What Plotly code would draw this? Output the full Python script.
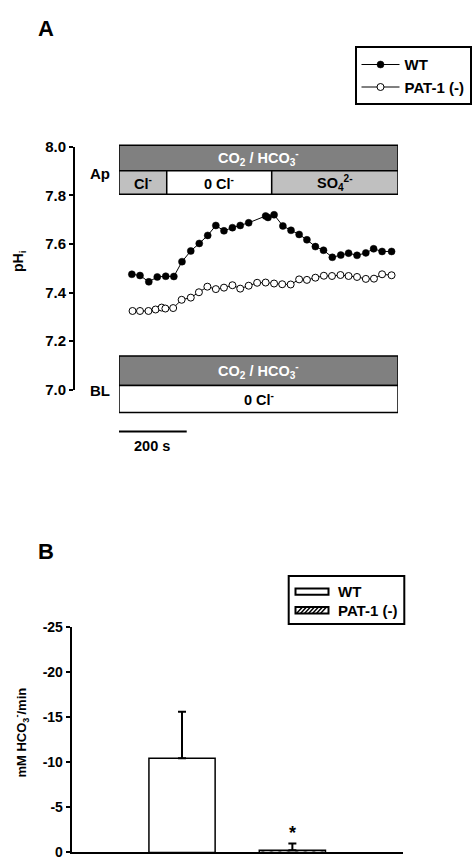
import plotly.graph_objects as go

W, H = 473, 867


def px(x):
    return x / W


def py(y):
    return 1 - y / H


# ---------------- Panel A data ----------------
wt_time = [38, 62, 88, 113, 138, 162, 186, 212, 237, 262, 286, 310, 335, 358, 383,
           433, 440, 458, 484, 508, 532, 555, 580, 604, 630, 655, 678, 703, 729, 752, 777, 805]
wt_ph = [7.475, 7.470, 7.444, 7.464, 7.467, 7.466, 7.527, 7.571, 7.602, 7.635, 7.676,
         7.654, 7.667, 7.676, 7.687, 7.715, 7.709, 7.720, 7.674, 7.656, 7.639, 7.617,
         7.589, 7.574, 7.545, 7.554, 7.562, 7.553, 7.563, 7.580, 7.569, 7.569]

pat_time = [40, 62, 87, 108, 126, 137, 160, 185, 212, 236, 261, 286, 310, 335, 358, 383,
            408, 433, 458, 482, 507, 532, 555, 580, 605, 629, 654, 678, 703, 729, 753, 777, 805]
pat_ph = [7.324, 7.324, 7.324, 7.330, 7.338, 7.334, 7.336, 7.370, 7.379, 7.401, 7.424,
          7.414, 7.420, 7.430, 7.416, 7.428, 7.440, 7.441, 7.437, 7.434, 7.433, 7.454,
          7.452, 7.461, 7.469, 7.468, 7.472, 7.468, 7.464, 7.456, 7.457, 7.475, 7.471]

series_names = ["WT", "PAT-1 (-)"]

# Solution segments (seconds)
ap_labels = ["Cl<sup>-</sup>", "0 Cl<sup>-</sup>", "SO<sub>4</sub><sup>2-</sup>"]
ap_bounds = [0, 141, 451, 824]
ap_colors = ["#c0c0c0", "#ffffff", "#c0c0c0"]
time_range = [0, 824]
scale_bar_s = 200

ph_ticks = [7.0, 7.2, 7.4, 7.6, 7.8, 8.0]

# ---------------- Panel B data ----------------
bar_categories = ["WT", "PAT-1 (-)"]
bar_values = [-10.45, -0.25]
bar_err = [5.15, 0.75]
b_ticks = [0, -5, -10, -15, -20, -25]
b_ticktext = ["0", "-5", "-10", "-15", "-20", "-25"]

FONT = "Liberation Sans, Arial, sans-serif"

fig = go.Figure()

fig.add_trace(go.Scatter(
    x=wt_time, y=wt_ph, name=series_names[0], mode="lines+markers",
    line=dict(color="black", width=1),
    marker=dict(symbol="circle", size=7, color="black", line=dict(color="black", width=0.5)),
    xaxis="x", yaxis="y", legend="legend", cliponaxis=False,
))
fig.add_trace(go.Scatter(
    x=pat_time, y=pat_ph, name=series_names[1], mode="lines+markers",
    line=dict(color="black", width=1),
    marker=dict(symbol="circle", size=7, color="white", line=dict(color="black", width=1)),
    xaxis="x", yaxis="y", legend="legend", cliponaxis=False,
))

fig.add_trace(go.Bar(
    x=[bar_categories[0]], y=[bar_values[0]], name=bar_categories[0], width=0.6,
    marker=dict(color="white", line=dict(color="black", width=1.5)),
    error_y=dict(type="data", symmetric=False, array=[0], arrayminus=[bar_err[0]],
                 color="black", thickness=2, width=4),
    xaxis="x2", yaxis="y2", showlegend=False,
))
fig.add_trace(go.Bar(
    x=[bar_categories[1]], y=[bar_values[1]], name=bar_categories[1], width=0.6,
    marker=dict(color="white", line=dict(color="black", width=1.5),
                pattern=dict(shape="/", fgcolor="black", bgcolor="white", size=6, solidity=0.35)),
    error_y=dict(type="data", symmetric=False, array=[0], arrayminus=[bar_err[1]],
                 color="black", thickness=2, width=4),
    xaxis="x2", yaxis="y2", showlegend=False,
))

shapes = []
BORDER = dict(color="black", width=1.5)
# Ap box top band
shapes.append(dict(type="rect", xref="x", yref="paper", x0=ap_bounds[0], x1=ap_bounds[-1],
                   y0=py(165), y1=py(139), fillcolor="#808080", line=BORDER))
for i in range(3):
    shapes.append(dict(type="rect", xref="x", yref="paper", x0=ap_bounds[i], x1=ap_bounds[i + 1],
                       y0=py(189), y1=py(165), fillcolor=ap_colors[i], line=BORDER))
# BL box
shapes.append(dict(type="rect", xref="x", yref="paper", x0=ap_bounds[0], x1=ap_bounds[-1],
                   y0=py(384), y1=py(354), fillcolor="#808080", line=BORDER))
shapes.append(dict(type="rect", xref="x", yref="paper", x0=ap_bounds[0], x1=ap_bounds[-1],
                   y0=py(411.5), y1=py(384), fillcolor="white", line=BORDER))
# scale bar
shapes.append(dict(type="line", xref="x", yref="paper", x0=0, x1=scale_bar_s,
                   y0=py(431), y1=py(431), line=dict(color="black", width=2)))

# Panel B legend (drawn as a key box)
shapes.append(dict(type="rect", xref="paper", yref="paper", x0=px(288.7), x1=px(404.3),
                   y0=py(627.3), y1=py(578.3), fillcolor="white", line=dict(color="black", width=2)))
shapes.append(dict(type="rect", xref="paper", yref="paper", x0=px(295.5), x1=px(328.5),
                   y0=py(597.5), y1=py(591), fillcolor="white", line=dict(color="black", width=2)))
shapes.append(dict(type="rect", xref="paper", yref="paper", x0=px(295.5), x1=px(328.5),
                   y0=py(616.5), y1=py(610), fillcolor="white", line=dict(color="black", width=2)))
hx0, hx1, hy0, hy1 = 295.5, 328.5, 616.5, 610
path = ""
u = hx0 + 1
while u + 6 <= hx1:
    path += f"M{px(u)},{py(hy0)} L{px(u + 6)},{py(hy1)} "
    u += 4
shapes.append(dict(type="path", xref="paper", yref="paper", path=path,
                   line=dict(color="black", width=1.5)))

annotations = []


def ann(text, x, y, size=14, color="black", angle=0, xref="paper", yref="paper", **kw):
    d = dict(text=text, x=x, y=y, xref=xref, yref=yref, showarrow=False,
             font=dict(family=FONT, weight="bold", size=size, color=color),
             textangle=angle, xanchor="center", yanchor="middle")
    d.update(kw)
    annotations.append(d)


co2 = "CO<sub>2</sub> / HCO<sub>3</sub><sup>-</sup>"
mid_t = (ap_bounds[0] + ap_bounds[-1]) / 2
ann(co2, mid_t, py(152), color="white", xref="x", size=14.5)
for i in range(3):
    ann(ap_labels[i], (ap_bounds[i] + ap_bounds[i + 1]) / 2, py(177.5), xref="x", size=14.5)
ann(co2, mid_t, py(369), color="white", xref="x", size=14.5)
ann(ap_labels[1], mid_t, py(398), xref="x", size=14.5)
ann("Ap", px(100), py(168), size=15)
ann("BL", px(100), py(389), size=15)
ann(f"{scale_bar_s} s", scale_bar_s / 2 - 2, py(446), xref="x", size=14.5)
ann("A", px(46), py(20), size=22)
ann("B", px(46), py(553), size=22)
ann("pH<sub>i</sub>", px(19), py(257), size=14, angle=-90)
ann("mM HCO<sub>3</sub><sup>-</sup>/min", px(21), py(738), size=13, angle=-90)
ann("*", bar_categories[1], bar_values[1] - bar_err[1], size=18, xref="x2", yref="y2",
    yanchor="bottom", yshift=-2)
ann(bar_categories[0], px(336), py(594.5), size=15, xanchor="left")
ann(bar_categories[1], px(336), py(613.5), size=15, xanchor="left")

fig.update_layout(
    width=W, height=H, margin=dict(l=0, r=0, t=0, b=0),
    paper_bgcolor="white", plot_bgcolor="white",
    font=dict(family=FONT, size=12, color="black"),
    barmode="overlay",
    xaxis=dict(domain=[px(119), px(398)], range=time_range, visible=False, anchor="y"),
    yaxis=dict(domain=[py(388.3), py(140.5)], range=[7.0, 8.0], anchor="free", position=px(74),
               tickvals=ph_ticks, tickformat=".1f", ticks="outside", ticklen=4, tickwidth=2,
               tickcolor="black", showline=True, linewidth=2, linecolor="black",
               showgrid=False, zeroline=False, tickfont=dict(family=FONT, weight="bold", size=15)),
    xaxis2=dict(domain=[px(71.7), px(402.7)], type="category", categoryarray=bar_categories,
                range=[-1, 2], showticklabels=False, ticks="", showline=True, linewidth=2,
                linecolor="black", showgrid=False, zeroline=False, anchor="y2"),
    yaxis2=dict(domain=[py(860.3), py(630.3)], range=[0, -25], anchor="x2",
                tickvals=b_ticks, ticktext=b_ticktext, ticks="outside", ticklen=4, tickwidth=2,
                tickcolor="black", showline=True, linewidth=2, linecolor="black",
                showgrid=False, zeroline=False, tickfont=dict(family=FONT, weight="bold", size=14)),
    legend=dict(x=px(354.5), y=py(38), xanchor="left", yanchor="top", bordercolor="black",
                borderwidth=2, bgcolor="white", itemwidth=38, tracegroupgap=0,
                font=dict(family=FONT, weight="bold", size=15)),
    shapes=shapes, annotations=annotations, showlegend=True,
)

fig.write_html("out.html")
